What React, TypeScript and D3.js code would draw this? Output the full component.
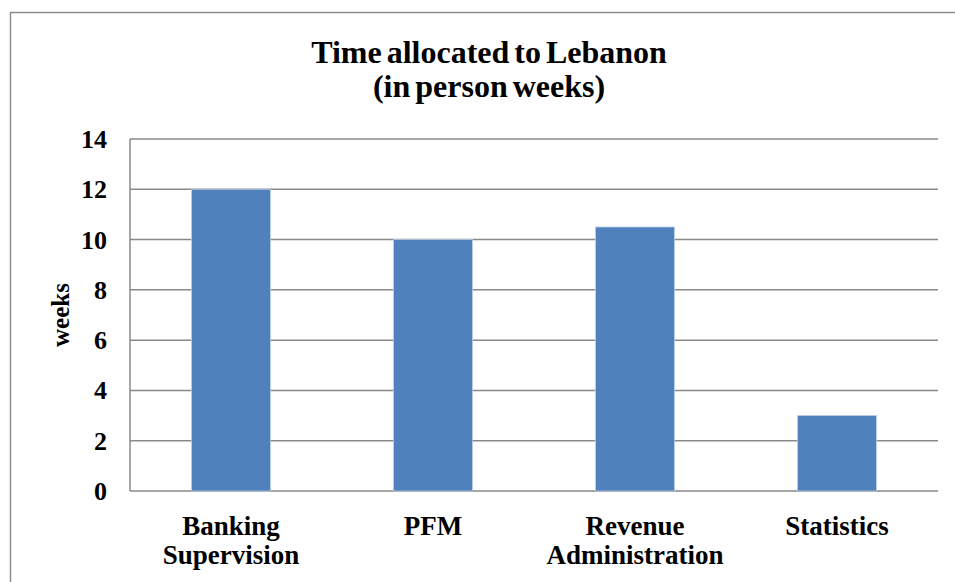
import React from "react";
import * as d3 from "d3";

const categories = [["Banking", "Supervision"], ["PFM"], ["Revenue", "Administration"], ["Statistics"]];
const values = [12, 10, 10.5, 3];
const yTicks = [0, 2, 4, 6, 8, 10, 12, 14];
const titleLines = ["Time allocated to Lebanon", "(in person weeks)"];

const width = 955;
const height = 582;
const margin = { top: 139, right: 17, bottom: 91, left: 130 };
const font = "Liberation Serif";

const x = d3.scaleBand()
  .domain(categories.map((d) => d.join(" ")))
  .range([margin.left, width - margin.right])
  .paddingInner(0.61)
  .paddingOuter(0.305);

const y = d3.scaleLinear()
  .domain([0, 14])
  .range([height - margin.bottom, margin.top]);

const App = () => {
  return (
    <svg width={width} height={height} style={{ position: "absolute", left: 0, top: 0 }}>
      {/* рамка */}
      <rect x={10.5} y={12.5} width={960} height={600} fill="white" stroke="#8c8c8c" strokeWidth={1.5} />

      {/* сетка */}
      {yTicks.map((t) => (
        <line key={t} x1={margin.left} x2={width - margin.right} y1={y(t)} y2={y(t)} stroke="#898989" strokeWidth={1.5} />
      ))}
      <line x1={margin.left} x2={margin.left} y1={y(0)} y2={y(14)} stroke="#898989" strokeWidth={1.5} />

      {/* столбцы */}
      {values.map((v, i) => (
        <rect
          key={i}
          x={x(categories[i].join(" "))}
          y={y(v)}
          width={x.bandwidth()}
          height={y(0) - y(v)}
          fill="#4F81BD"
          stroke="#B9CDE5"
          strokeWidth={0.8}
        />
      ))}

      {/* подписи оси Y */}
      {yTicks.map((t) => (
        <text key={t} x={107} y={y(t) + 9} textAnchor="end" fontFamily={font} fontWeight="bold" fontSize={26}>
          {t}
        </text>
      ))}

      {/* подписи категорий */}
      {categories.map((c) => {
        const cx = x(c.join(" "))! + x.bandwidth() / 2;
        return (
          <text key={c.join(" ")} x={cx} y={535} textAnchor="middle" fontFamily={font} fontWeight="bold" fontSize={27}>
            {c.map((line, i) => (
              <tspan key={line} x={cx} dy={i === 0 ? 0 : 29}>{line}</tspan>
            ))}
          </text>
        );
      })}

      {/* заголовок */}
      {titleLines.map((line, i) => (
        <text key={line} x={489} y={63 + i * 34} textAnchor="middle" fontFamily={font} fontWeight="bold" fontSize={32} style={{ wordSpacing: "-3px" }}>
          {line}
        </text>
      ))}

      {/* подпись оси */}
      <text transform={`translate(69,${y(7)}) rotate(-90)`} textAnchor="middle" fontFamily={font} fontWeight="bold" fontSize={25}>
        weeks
      </text>
    </svg>
  );
};

export default App;
